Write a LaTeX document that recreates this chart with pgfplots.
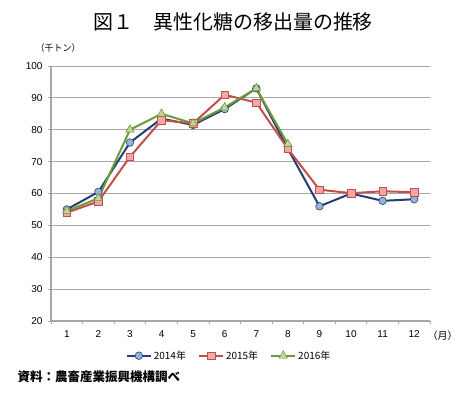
\documentclass[border=0pt]{standalone}
\usepackage{pgfplots}
\pgfplotsset{compat=1.18}
\usepackage{fontspec}
\setmainfont{Liberation Sans}
\newfontfamily\cjk{Noto Sans CJK JP}
\definecolor{bl}{HTML}{243F73}
\definecolor{blf}{HTML}{95B3D7}
\definecolor{rd}{HTML}{C0504D}
\definecolor{rdf}{HTML}{F2A7A5}
\definecolor{gr}{HTML}{6E9A3A}
\definecolor{grf}{HTML}{C3D69B}
\definecolor{gridc}{HTML}{A6A6A6}
\begin{document}
\begin{tikzpicture}
\path[use as bounding box] (0pt,0pt) rectangle (461pt,-392pt);
\node[font=\cjk\fontsize{20}{20}\selectfont] at (233pt,-22pt) {図１　異性化糖の移出量の推移};
\node[font=\cjk\fontsize{9}{9}\selectfont] at (58pt,-48pt) {（千トン）};
\node[font=\cjk\bfseries\fontsize{12.5}{12.5}\selectfont, anchor=west] at (14pt,-377pt) {資料：農畜産業振興機構調べ};
\begin{axis}[
  at={(51pt,-321pt)}, anchor=south west,
  scale only axis, width=379pt, height=255pt,
  xmin=0.5, xmax=12.5, ymin=20, ymax=100,
  ytick={20,30,...,100},
  xtick={1,...,12},
  minor xtick={0.5,1.5,...,12.5},
  major x tick style={draw=none},
  minor x tick style={gridc, line width=0.8pt},
  minor tick length=3pt,
  y tick style={gridc, line width=0.8pt},
  major tick length=3pt,
  tick align=outside,
  axis x line*=bottom, axis y line*=left,
  axis line style={gridc, line width=1.5pt},
  ymajorgrids, grid style={gridc, line width=0.9pt},
  ticklabel style={font=\fontsize{10}{10}\selectfont},
  /pgf/number format/assume math mode=true,
  yticklabel style={xshift=-2pt},
  xticklabel style={yshift=-3pt},
  clip=false,
  legend columns=3,
  legend style={draw=none, at={(0.47,-0.1)}, anchor=north, font=\cjk\fontsize{10}{10}\selectfont, /tikz/every even column/.append style={column sep=10pt}},
  legend image code/.code={\draw[#1, mark=none] (0pt,0pt) -- (24pt,0pt); \draw[#1, only marks] plot coordinates {(12pt,0pt)};},
]
\addplot[bl, line width=2pt, mark=*, mark size=3.8pt, mark options={fill=blf, draw=bl, line width=0.6pt}] coordinates {
(1,55) (2,60.5) (3,76) (4,83.5) (5,81.5) (6,86.5) (7,93) (8,74) (9,56) (10,60) (11,57.7) (12,58.2)};
\addlegendentry{2014年}
\addplot[rd, line width=2pt, mark=square*, mark size=3.8pt, mark options={fill=rdf, draw=rd, line width=0.6pt}] coordinates {
(1,54) (2,57.5) (3,71.5) (4,83) (5,82) (6,91) (7,88.5) (8,74) (9,61.2) (10,60.1) (11,60.7) (12,60.4)};
\addlegendentry{2015年}
\addplot[gr, line width=2pt, mark=triangle*, mark size=4.8pt, mark options={fill=grf, draw=gr, line width=0.6pt}] coordinates {
(1,54.5) (2,58.5) (3,80) (4,85) (5,82) (6,87) (7,93) (8,75.5)};
\addlegendentry{2016年}
\node[font=\cjk\fontsize{10}{10}\selectfont, anchor=west] at (axis cs:12.5,20) [yshift=-14.5pt, xshift=-6pt] {（月）};
\end{axis}
\end{tikzpicture}
\end{document}
